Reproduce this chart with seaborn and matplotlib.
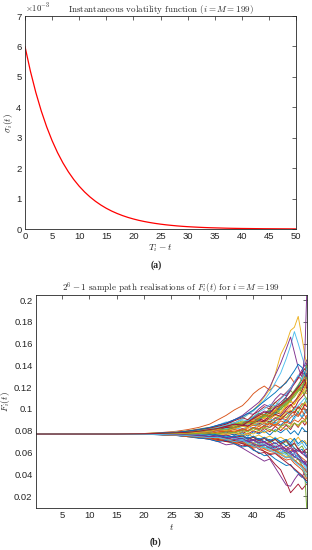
import numpy as np
import pandas as pd
import matplotlib
matplotlib.use('Agg')
import matplotlib.pyplot as plt
import seaborn as sns

# ── data: panel (a) ─────────────────────────────────────
tau = list(range(0, 51))                      # T_i - t
sigma_e3 = [6.000, 5.190, 4.489, 3.883, 3.359, 2.906, 2.513, 2.174, 1.881, 1.627,
            1.407, 1.217, 1.053, 0.911, 0.788, 0.681, 0.589, 0.510, 0.441, 0.381,
            0.330, 0.285, 0.247, 0.214, 0.185, 0.160, 0.138, 0.120, 0.103, 0.089,
            0.077, 0.067, 0.058, 0.050, 0.043, 0.038, 0.033, 0.028, 0.024, 0.021,
            0.018, 0.016, 0.014, 0.012, 0.010, 0.009, 0.008, 0.007, 0.006, 0.005,
            0.004]                            # x 1e-3

# ── data: panel (b) ─────────────────────────────────────
F0_permille = 76.9
t_early = [0.25, 10, 15]
t_late = [20, 23, 26, 28, 30, 32, 33.5, 35, 36.5, 38, 39, 40, 41, 42, 43, 44,
          45, 46, 46.8, 47.5, 48.2, 48.9, 49.4, 49.75]

# F_i(t) in units of 1e-3, one row per sample path (values at t_late)
paths_permille = [
    [77.1, 77.6, 78.3, 78.0, 79.5, 81, 80, 83, 85, 84, 88, 91, 89, 94, 99, 96, 104, 110, 106, 115, 121, 118, 127, 133],
    [77.4, 78.2, 79.5, 81, 83, 86, 90, 94, 99, 103, 108, 114, 118, 121, 117, 122, 119, 125, 129, 124, 130, 126, 121, 118],
    [77.0, 77.5, 78.4, 79, 80.5, 82, 84, 83, 87, 91, 95, 99, 104, 111, 118, 132, 150, 160, 172, 175, 185, 165, 150, 140],
    [76.8, 76.3, 75.5, 75, 73.5, 72, 70, 67, 68, 64, 61, 58, 55, 52, 54, 46, 38, 30, 29, 35, 40, 37, 43, 45],
    [77.0, 77.4, 78.0, 79, 78.5, 81, 83, 82, 86, 89, 87, 92, 96, 94, 101, 106, 103, 111, 117, 113, 120, 116, 112, 109],
    [77.3, 77.9, 78.9, 80, 81.5, 83, 85, 88, 87, 91, 95, 98, 103, 108, 115, 124, 133, 146, 158, 171, 160, 148, 140, 136],
    [76.9, 76.5, 75.8, 76, 74.5, 73, 71, 72, 69, 66, 67, 63, 59, 60, 55, 49, 44, 33, 23, 27, 31, 26, 29, 31],
    [77.0, 76.7, 77.3, 78, 77, 79, 78, 80, 78, 82, 80, 83, 81, 85, 83, 88, 85, 90, 87, 93, 97, 92, 96, 99],
    [76.8, 76.4, 75.9, 74.5, 75.5, 74, 72, 74, 71, 73, 70, 68, 71, 67, 70, 65, 62, 66, 61, 64, 58, 55, 53, 51],
    [77.4, 78.0, 78.6, 80, 81.5, 83, 82, 85, 87, 86, 90, 93, 91, 95, 93, 99, 104, 101, 108, 104, 113, 119, 116, 114],
    [77.1, 77.4, 78.0, 79, 80.5, 82, 84, 86, 90, 94, 98, 102, 106, 112, 120, 131, 142, 155, 166, 152, 138, 129, 150, 204.6],
    [76.9, 76.7, 76.3, 76, 77, 75.5, 74, 76, 73, 75, 72, 74, 70, 73, 69, 72, 67, 70, 65, 68, 63, 66, 61, 60],
    [77.2, 77.3, 77.8, 78, 79.5, 78.5, 81, 80, 83, 81, 84, 82, 87, 85, 89, 86, 92, 88, 95, 91, 96, 93, 99, 97],
    [77.0, 77.1, 76.6, 77, 76, 78, 77, 79, 76, 79, 77, 80, 78, 82, 79, 84, 80, 85, 81, 87, 83, 89, 85, 88],
    [76.7, 76.2, 75.5, 74.5, 73, 74, 72, 70, 71, 68, 70, 66, 68, 64, 66, 62, 64, 59, 61, 56, 58, 53, 51, 49],
    [77.3, 77.5, 78.2, 79, 80.5, 80, 82, 84, 83, 87, 85, 89, 88, 92, 90, 95, 93, 98, 96, 102, 100, 105, 103, 107],
    [77.0, 76.8, 77.2, 77, 78, 76.5, 78, 77, 80, 78, 82, 80, 84, 82, 87, 85, 91, 95, 99, 96, 102, 99, 106, 103],
    [76.8, 76.5, 76.0, 75.5, 74.5, 75, 73, 74, 71, 73, 70, 72, 68, 66, 68, 63, 60, 62, 57, 59, 54, 50, 52, 47],
    [77.1, 77.6, 78.4, 79.5, 79, 81, 83, 82, 85, 88, 86, 90, 94, 92, 97, 101, 99, 106, 110, 113, 117, 122, 125, 121],
    [76.9, 76.5, 76.8, 76, 75.5, 76, 74, 75, 73, 74, 72, 75, 71, 73, 70, 74, 69, 71, 67, 72, 66, 69, 65, 63],
    [77.2, 77.4, 77.9, 78.5, 79.5, 81, 80, 83, 82, 86, 84, 88, 91, 89, 94, 97, 95, 101, 104, 100, 107, 111, 114, 117],
    [77.0, 77.1, 76.6, 76, 77, 75.5, 76, 74, 75, 72, 74, 71, 73, 70, 72, 68, 70, 66, 68, 64, 61, 63, 58, 56],
    [76.9, 76.6, 77.1, 77.5, 77, 78.5, 78, 80, 79, 81, 80, 83, 82, 84, 83, 86, 84, 88, 86, 90, 88, 92, 90, 94],
    [77.3, 77.7, 78.2, 79.5, 80.5, 82, 84, 83, 86, 88, 87, 91, 94, 92, 97, 99, 96, 103, 107, 104, 111, 115, 119, 125],
    [76.8, 76.5, 75.8, 75, 75.5, 74, 75, 73, 71, 72, 69, 71, 68, 70, 66, 64, 67, 63, 66, 61, 64, 59, 57, 55],
    [77.1, 77.3, 77.7, 78.5, 78, 79.5, 81, 80, 82, 84, 83, 86, 85, 89, 87, 91, 94, 92, 97, 100, 97, 103, 106, 110],
    [76.7, 76.3, 75.6, 75, 74, 73, 74, 71, 72, 69, 67, 69, 66, 68, 64, 62, 60, 62, 57, 55, 57, 52, 49, 46],
    [77.2, 77.5, 78.0, 78.5, 78, 79.5, 81, 83, 82, 85, 84, 87, 86, 90, 88, 92, 90, 95, 98, 96, 102, 99, 104, 102],
    [77.0, 76.9, 77.3, 77, 76.5, 77.5, 76, 78, 76, 78, 75, 79, 77, 80, 76, 81, 78, 82, 77, 80, 76, 83, 80, 79],
    [77.1, 77.3, 76.9, 77.5, 78.5, 77.5, 79, 80, 79, 82, 80, 83, 81, 85, 87, 84, 89, 87, 92, 95, 93, 98, 94, 91],
    [76.9, 76.7, 77.1, 76.5, 77, 78.5, 77, 76, 78, 75, 77, 74, 76, 73, 75, 72, 74, 71, 73, 70, 74, 69, 71, 68],
    [77.2, 77.6, 78.3, 79.5, 81, 82.5, 85, 87, 90, 93, 96, 95, 100, 104, 102, 109, 114, 112, 119, 125, 129, 134, 131, 142],
    [76.8, 76.5, 76.0, 75.5, 74.5, 73, 74, 72, 70, 71, 68, 66, 68, 64, 65, 61, 59, 60, 55, 52, 54, 48, 40, 9],
    [77.0, 77.2, 77.6, 78, 79, 78.5, 80, 82, 81, 84, 86, 85, 88, 87, 91, 89, 94, 97, 95, 100, 103, 107, 110, 106],
    [76.9, 76.6, 76.3, 76, 75, 76, 74.5, 76, 74, 75, 72, 74, 71, 73, 70, 72, 68, 71, 66, 69, 63, 60, 62, 63],
    [77.1, 77.4, 77.9, 78.5, 79.5, 80, 82, 84, 83, 87, 89, 92, 90, 95, 98, 96, 102, 107, 111, 116, 121, 127, 133, 138],
    [76.8, 76.4, 75.8, 75, 74, 72.5, 73, 70, 68, 69, 66, 64, 65, 61, 59, 60, 56, 53, 54, 50, 47, 44, 40, 36],
    [77.2, 77.5, 78.0, 79, 80, 81.5, 83, 85, 84, 87, 86, 90, 93, 91, 95, 99, 97, 103, 108, 113, 118, 124, 130, 126],
    [77.0, 76.8, 76.4, 76, 75.5, 74.5, 75, 76, 74, 72, 73, 71, 72, 69, 67, 69, 65, 63, 60, 62, 57, 53, 49, 52],
    [77.1, 77.5, 78.1, 79, 80.5, 81.5, 83, 85, 87, 86, 90, 93, 96, 94, 99, 103, 101, 108, 112, 117, 122, 128, 133, 140],
    [76.9, 76.7, 76.5, 76, 76.5, 75.5, 74, 75, 73, 74, 71, 69, 70, 67, 65, 67, 63, 61, 58, 60, 55, 51, 47, 43],
    [77.3, 77.7, 78.4, 79.5, 81, 82.5, 84, 86, 89, 92, 90, 95, 98, 102, 100, 106, 110, 115, 119, 123, 128, 134, 137, 129],
    [76.8, 76.4, 75.7, 74.5, 73.5, 72, 70, 71, 68, 65, 66, 62, 60, 57, 58, 54, 51, 48, 49, 44, 41, 38, 35, 32],
    [77.0, 77.1, 77.5, 77.5, 77, 78.5, 80, 79, 81, 80, 83, 85, 84, 87, 85, 89, 92, 90, 95, 98, 94, 99, 101, 96],
    [77.1, 77.3, 76.9, 77, 77.5, 76.5, 78, 77, 79, 76, 78, 77, 80, 78, 81, 79, 83, 81, 85, 87, 84, 88, 90, 86],
    [76.9, 76.6, 76.2, 75.5, 76, 74.5, 75, 73, 74, 72, 70, 72, 69, 70, 67, 65, 67, 62, 64, 60, 62, 59, 61, 57],
    [77.2, 77.5, 78.2, 78.5, 79.5, 81, 82, 84, 83, 86, 88, 87, 91, 93, 96, 94, 100, 105, 109, 113, 118, 116, 114, 120],
    [76.8, 76.5, 76.0, 75.5, 74.5, 73.5, 74, 72, 71, 72, 69, 67, 68, 65, 63, 64, 60, 58, 55, 52, 49, 47, 44, 41],
    [77.0, 77.2, 77.5, 78, 78.5, 80, 81, 80, 83, 85, 84, 87, 89, 88, 92, 95, 93, 99, 103, 107, 111, 117, 123, 131],
    [76.9, 76.7, 76.3, 76, 75.5, 76.5, 76, 74, 75, 76, 73, 75, 72, 74, 71, 73, 70, 72, 69, 73, 68, 71, 69, 66],
    [77.1, 77.4, 77.9, 78.5, 79.5, 80.5, 82, 84, 83, 86, 89, 88, 92, 95, 93, 98, 103, 107, 110, 115, 119, 124, 130, 136],
    [76.8, 76.5, 76.0, 75.5, 74.5, 74, 72, 73, 71, 70, 68, 69, 66, 64, 62, 63, 59, 56, 57, 53, 50, 46, 42, 39],
    [77.2, 77.6, 78.1, 78.5, 79.5, 81, 82, 84, 86, 85, 89, 92, 95, 98, 97, 102, 106, 111, 117, 124, 130, 136, 140, 145],
    [77.0, 76.9, 77.2, 77, 77.5, 78, 77, 79, 78, 80, 79, 82, 80, 83, 81, 79, 84, 86, 83, 87, 85, 89, 88, 92],
    [77.1, 77.4, 77.9, 78.5, 79.5, 81, 83, 85, 87, 90, 89, 93, 97, 100, 104, 103, 109, 114, 119, 125, 131, 127, 132, 137],
    [76.9, 76.6, 76.0, 75.5, 74.5, 73, 72, 70, 71, 68, 66, 67, 63, 61, 58, 59, 55, 51, 48, 45, 42, 39, 36, 34],
    [77.3, 77.7, 78.5, 79.5, 81, 83, 85, 87, 90, 93, 96, 99, 103, 107, 111, 115, 120, 124, 130, 135, 141, 138, 132, 128],
    [76.7, 76.3, 75.7, 74.5, 74, 73, 71, 72, 69, 70, 67, 65, 66, 63, 61, 62, 58, 55, 56, 53, 50, 48, 45, 42],
    [77.0, 77.1, 77.4, 78, 78.5, 79.5, 81, 80, 82, 84, 83, 86, 88, 87, 91, 94, 92, 97, 101, 105, 109, 114, 119, 124],
    [76.9, 76.7, 76.4, 76, 75.5, 74.5, 75, 73, 72, 70, 71, 68, 66, 67, 64, 62, 64, 61, 59, 56, 54, 52, 50, 48],
    [77.1, 77.4, 77.8, 78.5, 79.5, 80.5, 82, 81, 83, 86, 88, 87, 91, 94, 92, 97, 100, 104, 108, 111, 116, 120, 125, 129],
    [76.8, 76.5, 76.0, 75.5, 74.5, 73.5, 74, 72, 70, 71, 68, 66, 64, 65, 62, 60, 58, 55, 56, 52, 49, 46, 41, 38],
    [77.2, 77.5, 78.1, 78.5, 79.5, 81, 82, 84, 86, 85, 88, 91, 94, 97, 96, 101, 104, 108, 112, 116, 120, 124, 127, 119],
]

matlab_colors = ['#0072BD', '#D95319', '#EDB120', '#7E2F8E',
                 '#77AC30', '#4DBEEE', '#A2142F']

# ── style ───────────────────────────────────────────────
sns.set_style("white")
plt.rcParams['font.family'] = ['Liberation Sans', 'DejaVu Sans']
plt.rcParams['mathtext.fontset'] = 'cm'
AX_COL = '#262626'

def matlab_axes(ax):
    for s in ax.spines.values():
        s.set_visible(True)
        s.set_color(AX_COL)
        s.set_linewidth(0.6)
    ax.tick_params(direction='in', length=3, width=0.5, colors=AX_COL,
                   labelsize=6.8, top=True, right=True, pad=2.5)

fig = plt.figure(figsize=(3.12, 5.5), dpi=100)

# ── panel (a) ───────────────────────────────────────────
ax1 = fig.add_axes([0.080, 0.5836, 0.869, 0.3873])
sns.lineplot(x=tau, y=sigma_e3, color='#FF0000', linewidth=0.9, ax=ax1)
ax1.set_xlim(0, 50)
ax1.set_ylim(0, 7)
ax1.set_xticks(range(0, 51, 5))
ax1.set_yticks(range(0, 8))
matlab_axes(ax1)
ax1.set_title('Instantaneous volatility function ($i = M = 199$)',
              fontfamily='cmr10', fontsize=6.5, pad=3)
ax1.set_xlabel('$T_i - t$', fontsize=6.8, labelpad=1)
ax1.set_ylabel(r'$\sigma_i(t)$', fontsize=6.8)
ax1.yaxis.set_label_coords(-0.036, 0.5)
ax1.text(0.0, 1.005, r'$\times 10^{-3}$', transform=ax1.transAxes,
         fontsize=6.3, color=AX_COL, va='bottom', ha='left')
fig.text(0.5, 1 - 265 / 550, '(a)', ha='center', va='center',
         fontfamily='Liberation Serif', fontweight='bold', fontsize=7)

# ── panel (b) ───────────────────────────────────────────
t_grid = t_early + t_late
rows = []
for k, p in enumerate(paths_permille):
    vals = [F0_permille] * len(t_early) + p
    for t, v in zip(t_grid, vals):
        rows.append({'t': t, 'F': v / 1000.0, 'path': k})
df = pd.DataFrame(rows)
palette = [matlab_colors[k % 7] for k in range(len(paths_permille))]

ax2 = fig.add_axes([0.1154, 0.0764, 0.8676, 0.3872])
sns.lineplot(data=df, x='t', y='F', hue='path', palette=palette,
             estimator=None, linewidth=0.65, legend=False, ax=ax2)
ax2.set_xlim(0.25, 49.75)
ax2.set_ylim(0.009, 0.2046)
ax2.set_xticks(range(5, 50, 5))
ax2.set_yticks([0.02, 0.04, 0.06, 0.08, 0.1, 0.12, 0.14, 0.16, 0.18, 0.2])
ax2.set_yticklabels(['0.02', '0.04', '0.06', '0.08', '0.1', '0.12',
                     '0.14', '0.16', '0.18', '0.2'])
matlab_axes(ax2)
ax2.set_title('$2^6 - 1$ sample path realisations of $F_i(t)$ for $i = M = 199$',
              fontfamily='cmr10', fontsize=6.5, pad=3)
ax2.set_xlabel('$t$', fontsize=6.8, labelpad=1)
ax2.set_ylabel('$F_i(t)$', fontsize=6.8)
ax2.yaxis.set_label_coords(-0.089, 0.5)
fig.text(0.5, 1 - 542 / 550, '(b)', ha='center', va='center',
         fontfamily='Liberation Serif', fontweight='bold', fontsize=7)

plt.savefig('out.png', dpi=100)
plt.close()
